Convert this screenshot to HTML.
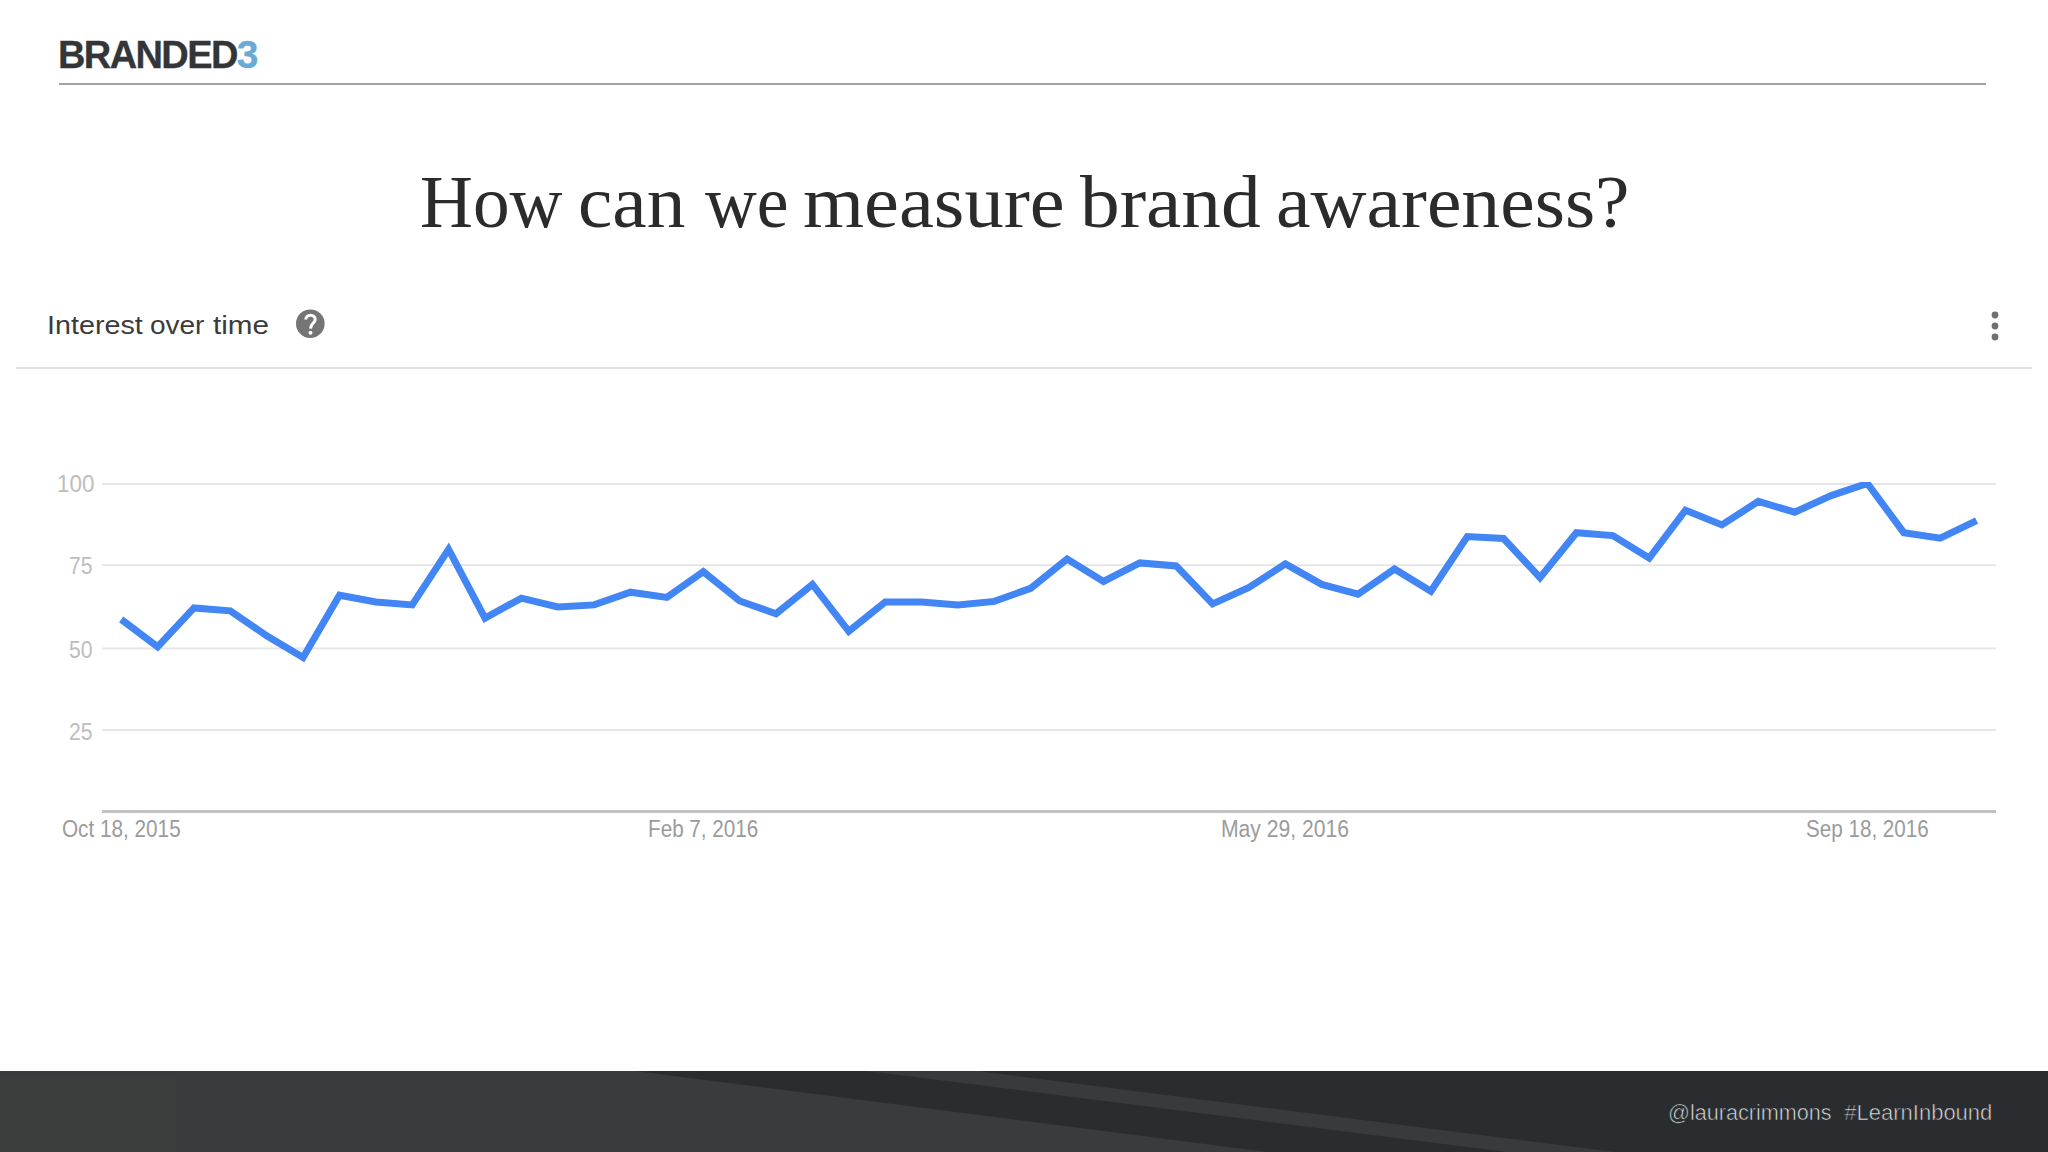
<!DOCTYPE html>
<html><head><meta charset="utf-8">
<style>
html,body{margin:0;padding:0;}
body{width:2048px;height:1152px;position:relative;overflow:hidden;background:#ffffff;font-family:"Liberation Sans",sans-serif;}
.abs{position:absolute;white-space:nowrap;}
#logo{left:58px;top:29px;font-family:"Liberation Sans",sans-serif;font-weight:bold;font-size:38px;color:#333638;letter-spacing:-1.6px;line-height:52px;-webkit-text-stroke:0.3px #333638;}
#logo span{color:#6aaad6;font-size:39px;-webkit-text-stroke:0.3px #6aaad6;}
#logoline{left:59px;top:83px;width:1927px;height:2px;background:#a3a3a3;}
.tw{position:absolute;top:142px;white-space:nowrap;font-family:"Liberation Serif",serif;font-size:75px;color:#2b2b2b;line-height:120px;transform-origin:0 0;}
.iw{position:absolute;top:265px;white-space:nowrap;font-size:26px;color:#3b3b3b;line-height:120px;transform-origin:0 0;}
#sep{left:16px;top:367px;width:2016px;height:2px;background:#e2e2e2;}
#footer{left:0;top:1071px;width:2048px;height:81px;}
.fw{position:absolute;top:1053px;white-space:nowrap;font-size:22px;color:#dcdcdc;line-height:120px;transform-origin:0 0;-webkit-text-stroke:0.6px #2a2d30;paint-order:normal;}
.ylab{position:absolute;font-size:23px;color:#bdbdbd;line-height:120px;white-space:nowrap;transform-origin:0 0;}
.xlab{position:absolute;font-size:23px;color:#9b9b9b;line-height:120px;top:769px;white-space:nowrap;transform-origin:0 0;}
</style></head><body>
<div id="logo" class="abs">BRANDED<span>3</span></div>
<div id="logoline" class="abs"></div>
<div class="tw" style="left:419.9px;transform:scaleX(0.9764)">How</div>
<div class="tw" style="left:578.2px;transform:scaleX(1.0310)">can</div>
<div class="tw" style="left:704.7px;transform:scaleX(0.9553)">we</div>
<div class="tw" style="left:802.6px;transform:scaleX(1.0473)">measure</div>
<div class="tw" style="left:1080.4px;transform:scaleX(1.0582)">brand</div>
<div class="tw" style="left:1276.3px;transform:scaleX(1.0355)">awareness?</div>
<div class="iw" style="left:46.6px;transform:scaleX(1.104)">Interest</div>
<div class="iw" style="left:150.3px;transform:scaleX(1.076)">over</div>
<div class="iw" style="left:212.9px;transform:scaleX(1.14)">time</div>
<svg class="abs" style="left:0;top:0" width="2048" height="1152" viewBox="0 0 2048 1152">
  <circle cx="310.3" cy="323.7" r="14.3" fill="#757575"/>
  <path d="M305.8,319.6 C305.8,316.9 307.9,315.3 310.5,315.3 C313.1,315.3 315.2,317 315.2,319.4 C315.2,322.8 310.6,323.6 310.5,328.6" fill="none" stroke="#ffffff" stroke-width="3"/><circle cx="310.5" cy="332.8" r="2" fill="#ffffff"/>
  <circle cx="1995" cy="315" r="3.4" fill="#707070"/>
  <circle cx="1995" cy="326" r="3.4" fill="#707070"/>
  <circle cx="1995" cy="337" r="3.4" fill="#707070"/>
  <g fill="#e6e6e6">
    <rect x="102" y="483" width="1894" height="2"/>
    <rect x="102" y="564.2" width="1894" height="2"/>
    <rect x="102" y="647.4" width="1894" height="2"/>
    <rect x="102" y="729.1" width="1894" height="2"/>
  </g>
  <rect x="102" y="810" width="1894" height="3" fill="#c2c1c5"/>
  <defs><clipPath id="ca"><rect x="0" y="482" width="2048" height="340"/></clipPath></defs>
  <polyline clip-path="url(#ca)" points="121.2,619.4 157.6,646.9 194.0,607.9 230.3,610.8 266.7,635.8 303.1,657.4 339.5,595.2 375.9,602.0 412.2,604.9 448.6,549.3 485.0,618.1 521.4,598.1 557.8,606.9 594.1,604.9 630.5,592.2 666.9,597.4 703.3,571.7 739.7,601.0 776.0,613.7 812.4,584.4 848.8,631.3 885.2,602.0 921.6,602.0 957.9,604.9 994.3,601.4 1030.7,588.3 1067.1,559.0 1103.5,581.4 1139.8,562.9 1176.2,565.9 1212.6,603.9 1249.0,587.4 1285.4,563.9 1321.7,584.4 1358.1,594.2 1394.5,569.0 1430.9,591.3 1467.3,536.6 1503.6,538.5 1540.0,577.6 1576.4,532.7 1612.8,535.6 1649.2,558.1 1685.5,510.2 1721.9,524.9 1758.3,501.4 1794.7,512.2 1831.1,495.6 1867.4,483.4 1903.8,532.7 1940.2,538.2 1976.6,520.6" fill="none" stroke="#4285f4" stroke-width="7" stroke-linejoin="miter" stroke-miterlimit="4"/>
</svg>
<div id="sep" class="abs"></div>
<div class="ylab" style="top:424px;left:56.8px;transform:scaleX(0.974)">100</div>
<div class="ylab" style="top:506px;left:69px;transform:scaleX(0.92)">75</div>
<div class="ylab" style="top:590px;left:69px;transform:scaleX(0.92)">50</div>
<div class="ylab" style="top:672px;left:69px;transform:scaleX(0.92)">25</div>
<div class="xlab" style="left:61.6px;transform:scaleX(0.901)">Oct 18, 2015</div>
<div class="xlab" style="left:647.5px;transform:scaleX(0.899)">Feb 7, 2016</div>
<div class="xlab" style="left:1221.2px;transform:scaleX(0.919)">May 29, 2016</div>
<div class="xlab" style="left:1806px;transform:scaleX(0.897)">Sep 18, 2016</div>
<svg id="footer" class="abs" width="2048" height="81" viewBox="0 1071 2048 81">
  <rect x="0" y="1071" width="2048" height="81" fill="#393c3f"/>
  <rect x="0" y="1075" width="176" height="77" fill="#393e3d"/>
  <polygon points="635,1071 2048,1071 2048,1152 1267,1152" fill="#2a2d30"/>
  <polygon points="867,1071 977,1071 1615,1152 1507,1152" fill="#383b3e"/>
</svg>
<div class="fw" style="left:1668px;transform:scaleX(0.982)">@lauracrimmons</div>
<div class="fw" style="left:1844.3px">#LearnInbound</div>
</body></html>
